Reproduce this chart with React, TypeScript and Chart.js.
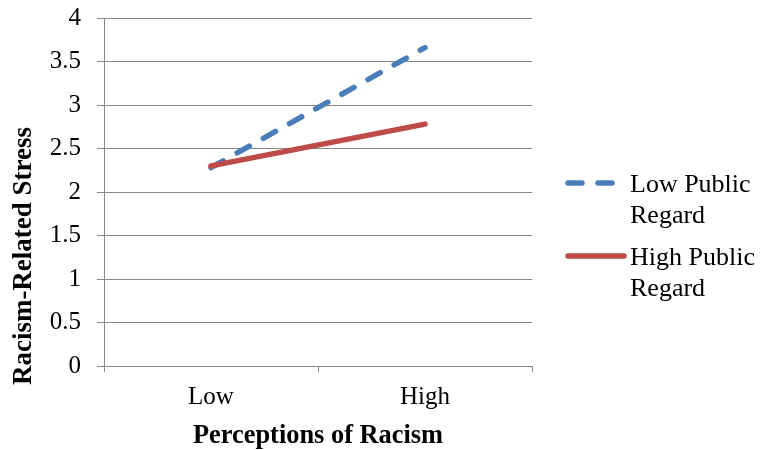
import React, { useEffect, useRef } from "react";
import { Chart, registerables } from "chart.js";

Chart.register(...registerables);

// Simple-slopes data: racism-related stress by perceptions of racism
const categories = ["Low", "High"];
const seriesNames = ["Low Public Regard", "High Public Regard"];
const legendLines = [
  ["Low Public", "Regard"],
  ["High Public", "Regard"],
];
const lowPublicRegard = [2.28, 3.66];
const highPublicRegard = [2.3, 2.78];
const yMin = 0;
const yMax = 4;
const yStep = 0.5;
const xTitle = "Perceptions of Racism";
const yTitle = "Racism-Related Stress";

const SERIF = "'Liberation Serif', 'Times New Roman', serif";
const GRID = "#888888";
const BLUE = "#4A7EBB";
const RED = "#BE4B48";

// Draws the wrapped legend on the right and the rotated y-axis title
const sideDecor = {
  id: "sideDecor",
  afterDraw(chart: any) {
    const ctx = chart.ctx;
    ctx.save();

    // y-axis title
    ctx.font = `bold 27px ${SERIF}`;
    ctx.fillStyle = "#000";
    ctx.textAlign = "center";
    ctx.textBaseline = "middle";
    ctx.translate(24, 256);
    ctx.rotate(-Math.PI / 2);
    ctx.fillText(yTitle, 0, 0);
    ctx.setTransform(1, 0, 0, 1, 0, 0);

    // legend
    const items = [
      { lineY: 183, baseY: 192, x2: 616 },
      { lineY: 256, baseY: 265, x2: 627 },
    ];
    chart.data.datasets.forEach((ds: any, i: number) => {
      const it = items[i];
      ctx.beginPath();
      ctx.strokeStyle = ds.borderColor;
      ctx.lineWidth = ds.borderWidth;
      ctx.lineCap = "round";
      ctx.setLineDash(ds.borderDash || []);
      ctx.moveTo(568, it.lineY);
      ctx.lineTo(it.x2 - 3, it.lineY);
      ctx.stroke();
      ctx.setLineDash([]);
      ctx.font = `26px ${SERIF}`;
      ctx.fillStyle = "#000";
      ctx.textAlign = "left";
      ctx.textBaseline = "alphabetic";
      legendLines[i].forEach((line, j) => {
        ctx.fillText(line, 630, it.baseY + j * 31);
      });
    });
    ctx.restore();
  },
};

export default function App() {
  const canvasRef = useRef<HTMLCanvasElement | null>(null);

  useEffect(() => {
    document.body.style.margin = "0";
    const canvas = canvasRef.current;
    if (!canvas) return;
    const chart = new Chart(canvas, {
      type: "line",
      data: {
        labels: categories,
        datasets: [
          {
            label: seriesNames[0],
            data: lowPublicRegard,
            borderColor: BLUE,
            backgroundColor: BLUE,
            borderWidth: 5.5,
            borderDash: [14, 16],
            borderCapStyle: "round",
            pointRadius: 0,
            order: 1,
          },
          {
            label: seriesNames[1],
            data: highPublicRegard,
            borderColor: RED,
            backgroundColor: RED,
            borderWidth: 5.5,
            borderCapStyle: "round",
            pointRadius: 0,
            order: 0,
          },
        ],
      },
      options: {
        responsive: false,
        animation: false,
        devicePixelRatio: 1,
        layout: { padding: { top: 18, right: 228, left: 0, bottom: 0 } },
        plugins: {
          legend: { display: false },
          tooltip: { enabled: false },
        },
        scales: {
          x: {
            offset: true,
            grid: {
              display: true,
              drawOnChartArea: false,
              drawTicks: true,
              tickLength: 6,
              color: GRID,
              offset: true,
            },
            border: { display: true, color: GRID },
            ticks: {
              color: "#000",
              font: { family: SERIF, size: 25 },
              padding: 10,
            },
            title: {
              display: true,
              text: xTitle,
              color: "#000",
              font: { family: SERIF, size: 26.4, weight: "bold", lineHeight: 1 },
              padding: { top: 0, bottom: 1 },
            },
            afterFit(scale: any) {
              scale.height = 84;
              scale.paddingLeft = 0;
              scale.paddingRight = 0;
            },
          },
          y: {
            min: yMin,
            max: yMax,
            ticks: {
              stepSize: yStep,
              color: "#000",
              font: { family: SERIF, size: 25 },
              padding: 16,
              callback: (value: any) => String(Number(value)),
            },
            grid: {
              color: GRID,
              drawTicks: true,
              tickLength: 7,
            },
            border: { display: true, color: GRID },
            afterFit(scale: any) {
              scale.width = 104;
              scale.paddingTop = 0;
              scale.paddingBottom = 0;
            },
          },
        },
      },
      plugins: [sideDecor],
    } as any);
    return () => chart.destroy();
  }, []);

  return (
    <div style={{ width: 760, height: 450, background: "#fff" }}>
      <canvas ref={canvasRef} width={760} height={450} />
    </div>
  );
}
